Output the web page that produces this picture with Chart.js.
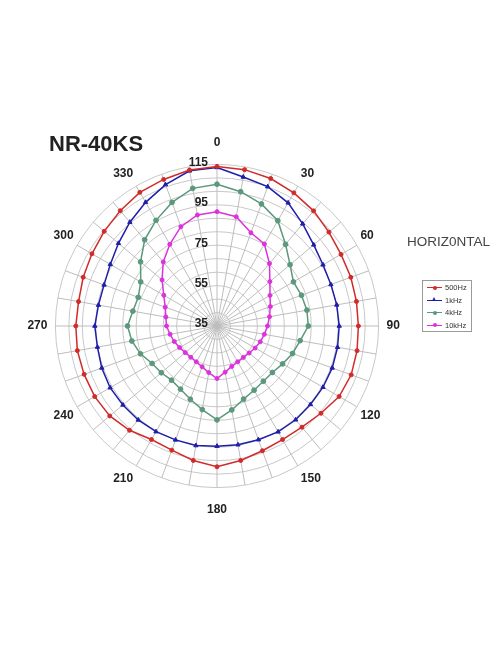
<!DOCTYPE html>
<html>
<head>
<meta charset="utf-8">
<script src="https://cdn.jsdelivr.net/npm/chart.js@4.4.1/dist/chart.umd.min.js"></script>
<style>
  body { margin: 0; background: #fff; font-family: "Liberation Sans", Arial, sans-serif; }
  #wrap { position: relative; width: 496px; height: 664px; overflow: hidden; }
  #chart { position: absolute; left: 0; top: 0; }
  #title { position: absolute; left: 49px; top: 131px; font-size: 22px; font-weight: bold; color: #222; }
  #subtitle { position: absolute; left: 407px; top: 234px; font-size: 13.5px; color: #444; }
  #legend { position: absolute; left: 422px; top: 280px; width: 50px; height: 52px; border: 1px solid #9a9a9a; box-sizing: border-box; padding-top: 0px; }
  .row { position: relative; height: 12.5px; }
  .row .ln { position: absolute; left: 4px; top: 6px; width: 15px; border-top: 1px solid; }
  .row .mk { position: absolute; left: 9.5px; top: 4.5px; width: 4px; height: 4px; border-radius: 50%; }
  .row .tri { position: absolute; left: 9px; top: 3.5px; width: 0; height: 0; border-left: 2.5px solid transparent; border-right: 2.5px solid transparent; border-bottom: 4.5px solid; }
  .row .tx { position: absolute; left: 22px; top: 2px; font-size: 7.5px; color: #333; white-space: nowrap; }
</style>
</head>
<body>
<div id="wrap">
  <canvas id="chart" width="496" height="664"></canvas>
  <div id="title">NR-40KS</div>
  <div id="subtitle">HORIZ0NTAL</div>
  <div id="legend"></div>
</div>
<script>
// Ángulos (grados) y niveles
const angles = [0, 10, 20, 30, 40, 50, 60, 70, 80, 90, 100, 110, 120, 130, 140, 150, 160, 170,
                180, 190, 200, 210, 220, 230, 240, 250, 260, 270, 280, 290, 300, 310, 320, 330, 340, 350];

const seriesNames = ['500Hz', '1kHz', '4kHz', '10kHz'];

const hz500 = [114.0, 113.6, 112.7, 111.1, 109.4, 107.3, 105.9, 105.5, 105.1, 105.0, 105.4, 105.7,
               104.8, 102.2, 100.4, 99.9, 100.7, 102.6, 104.7, 102.6, 100.4, 99.9, 102.4, 104.3,
               104.9, 105.0, 105.2, 104.9, 104.6, 105.5, 106.5, 107.9, 109.5, 111.4, 112.2, 113.4];

const hz1k = [113.5, 109.9, 108.4, 105.4, 101.0, 97.5, 95.6, 95.0, 95.2, 95.5, 95.6, 95.7,
              95.6, 95.4, 95.6, 95.5, 94.9, 94.7, 94.5, 95.1, 95.0, 95.4, 95.7, 95.8,
              96.1, 95.7, 95.1, 95.5, 94.6, 94.5, 96.0, 98.7, 102.1, 105.7, 109.5, 113.0];

const hz4k = [105.2, 102.5, 99.3, 95.2, 87.8, 82.2, 78.7, 79.5, 80.2, 80.2, 76.8, 74.8,
              72.5, 70.8, 70.7, 71.7, 73.5, 77.2, 81.5, 77.0, 73.6, 71.1, 70.0, 71.0,
              72.1, 75.3, 77.8, 79.3, 77.3, 76.5, 78.6, 84.4, 90.7, 95.4, 100.1, 104.2];

const hz10k = [91.6, 89.9, 84.1, 81.9, 75.4, 69.2, 65.3, 63.1, 61.4, 60.0, 58.8, 57.8,
               56.8, 55.8, 55.3, 55.5, 56.3, 58.2, 61.0, 58.4, 56.5, 55.5, 55.2, 55.5,
               56.4, 57.5, 58.6, 60.0, 60.7, 62.3, 65.4, 70.5, 76.4, 81.7, 87.3, 90.8];

// Etiquetas del eje radial
const ringLabels = [35, 55, 75, 95, 115];

const colors = ['#d22a2a', '#1e1eaa', '#5c987c', '#dc32dc'];
const markers = ['circle', 'triangle', 'circle', 'circle'];
const allData = [hz500, hz1k, hz4k, hz10k];

const FONT = '"Liberation Sans", Arial, sans-serif';

// Dibuja los valores del eje radial a la izquierda del eje vertical
const ringLabelPlugin = {
    id: 'ringLabels',
    afterDraw(chart) {
        const scale = chart.scales.r;
        const ctx = chart.ctx;
        ctx.save();
        ctx.font = 'bold 12px ' + FONT;
        ctx.fillStyle = '#222';
        ctx.textAlign = 'right';
        ctx.textBaseline = 'middle';
        ringLabels.forEach(v => {
            const d = scale.getDistanceFromCenterForValue(v);
            ctx.fillText(String(v), scale.xCenter - 9, scale.yCenter - d - 2);
        });
        ctx.restore();
    }
};

function labelPadding(ctx) {
    const a = angles[ctx.index];
    if (a % 30 !== 0) return 0;
    if (a === 0 || a === 180) return 15;
    if (a === 90 || a === 270) return 8;
    if (a % 60 === 0) return 4;
    return 6;
}

const chart = new Chart(document.getElementById('chart'), {
    type: 'radar',
    data: {
        labels: angles,
        datasets: seriesNames.map((name, i) => ({
            label: name,
            data: allData[i],
            borderColor: colors[i],
            backgroundColor: colors[i],
            pointBackgroundColor: colors[i],
            pointBorderColor: colors[i],
            pointStyle: markers[i],
            pointRadius: i === 1 ? 2.5 : (i === 2 ? 2.4 : 2),
            pointBorderWidth: 1,
            borderWidth: 1.5,
            fill: false,
            tension: 0
        }))
    },
    options: {
        responsive: false,
        animation: false,
        layout: { padding: { left: 23, top: 135, right: 90, bottom: 146 } },
        plugins: {
            legend: { display: false },
            tooltip: { enabled: false }
        },
        scales: {
            r: {
                min: 35,
                max: 115,
                ticks: { display: false, stepSize: 20 / 3 },
                grid: { circular: true, color: '#c8c8c8', lineWidth: 1 },
                angleLines: { color: '#bdbdbd', lineWidth: 1 },
                pointLabels: {
                    display: true,
                    color: '#222',
                    font: { family: FONT, size: 12, weight: 'bold' },
                    padding: labelPadding,
                    callback: (label) => (label % 30 === 0 ? String(label) : '')
                }
            }
        }
    },
    plugins: [ringLabelPlugin]
});

// Leyenda en HTML a partir de las series
const legend = document.getElementById('legend');
seriesNames.forEach((name, i) => {
    const row = document.createElement('div');
    row.className = 'row';
    const mk = markers[i] === 'triangle'
        ? `<span class="tri" style="border-bottom-color:${colors[i]}"></span>`
        : `<span class="mk" style="background:${colors[i]}"></span>`;
    row.innerHTML = `<span class="ln" style="border-color:${colors[i]}"></span>${mk}<span class="tx">${name}</span>`;
    legend.appendChild(row);
});
</script>
</body>
</html>
